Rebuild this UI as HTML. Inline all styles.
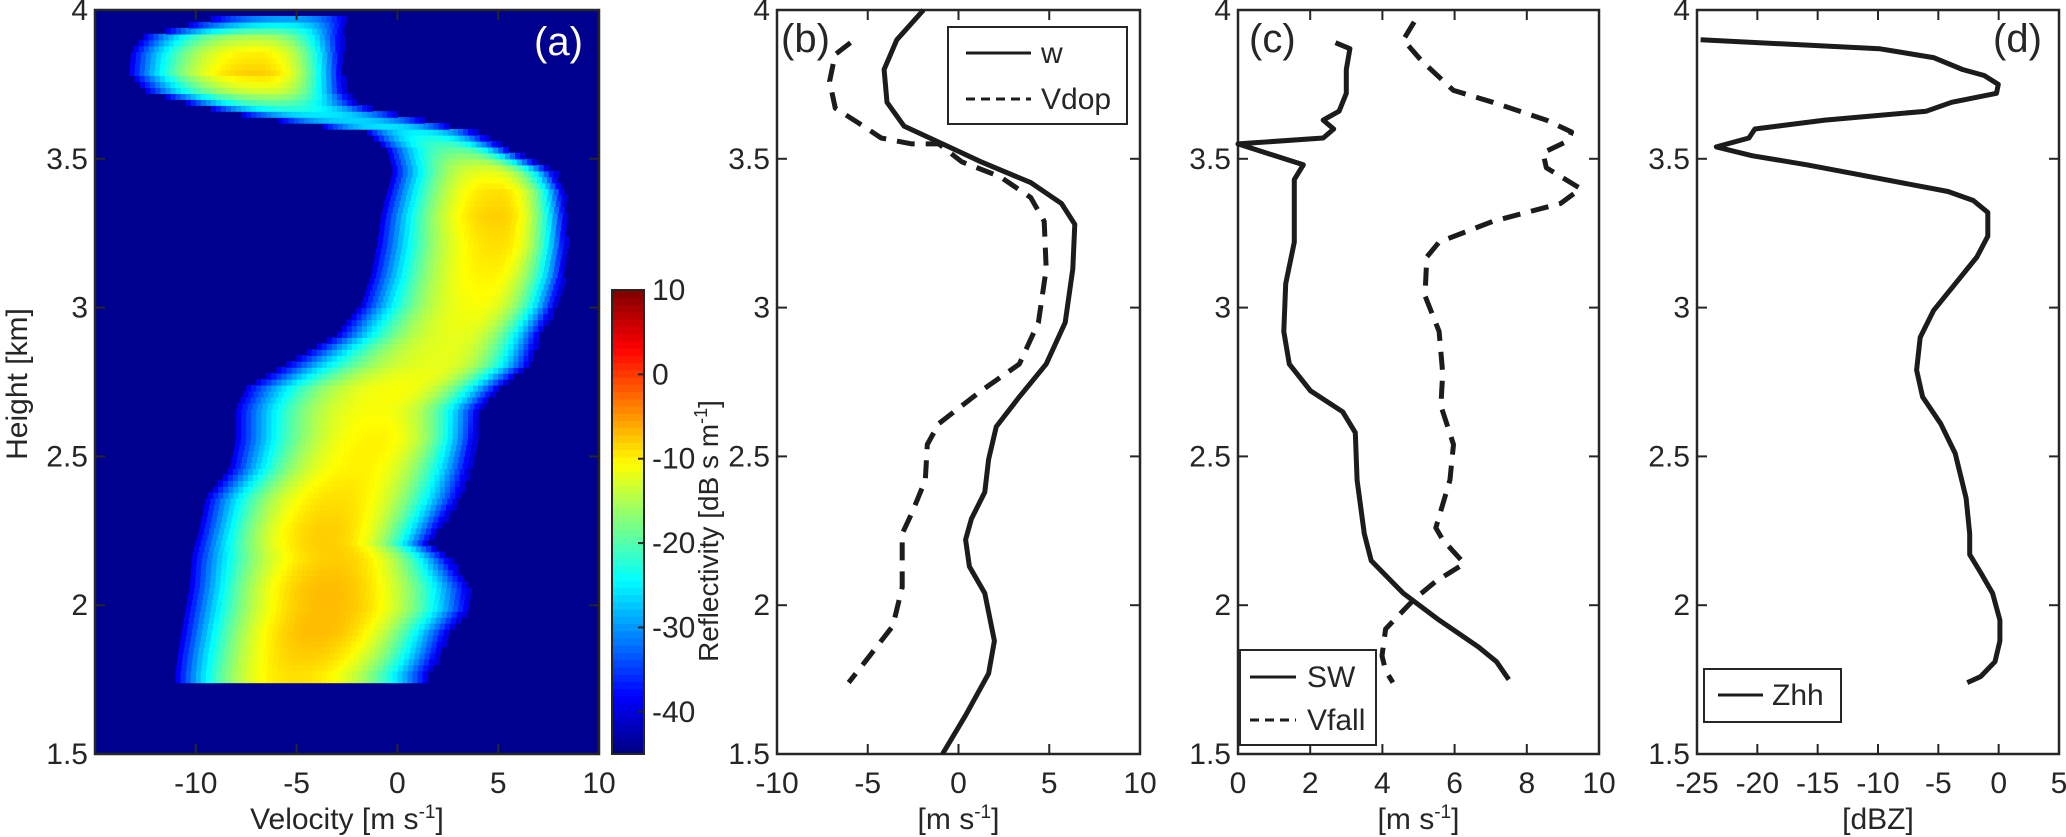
<!DOCTYPE html>
<html><head><meta charset="utf-8"><style>
html,body{margin:0;padding:0;background:#fff;}
svg{display:block;font-family:"Liberation Sans",Arial,sans-serif;}
</style></head><body>
<svg id="fig" width="2066" height="837" viewBox="0 0 2066 837" xmlns="http://www.w3.org/2000/svg">
<defs>
<clipPath id="clipa"><rect x="95" y="10" width="504" height="744"/></clipPath>
</defs>
<g id="pa"></g>
<g id="pb"></g>
<g id="pc"></g>
<g id="pd"></g>
</svg>
<script>
// ---- Panel (a) spectrogram data (per height row) ----
const specHeights = [3.97,3.90,3.85,3.78,3.72,3.67,3.63,3.58,3.52,3.45,3.38,3.30,3.20,3.10,3.00,2.90,2.80,2.72,2.65,2.55,2.45,2.35,2.25,2.20,2.15,2.05,1.98,1.90,1.82,1.76,1.74];
const specLeft    = [-8.7,-12.6,-13.2,-13.3,-12.5,-10,-7,-1.5,-0.5,-0.2,-0.5,-0.8,-1.0,-1.3,-1.8,-3.0,-5.5,-7.5,-8,-8,-8.3,-9.5,-9.8,-10,-10.2,-10.3,-10.5,-10.7,-10.9,-11,-11];
const specRight   = [-2.6,-2.8,-2.8,-2.8,-2.7,-2.0,0.6,3.8,5.5,7.7,8.2,8.3,8.3,8.2,7.8,7.0,6.5,5.0,4.0,3.8,3.5,3.0,2.0,1.5,2.5,3.5,3.5,2.5,2.0,1.5,1.5];
const specPeakV   = [-5,-7,-7,-7,-6.5,-6,-3,1,3,4.5,5,5,5,4.5,4,3,2,0,-1,-1,-2,-3,-3.5,-3.5,-3,-3.5,-3.5,-4,-4.5,-5,-5];
const specPeakDB  = [-32,-15,-10,-8,-13,-21,-27,-25,-19,-12,-9,-8,-9,-10,-11,-12,-12,-11,-11,-10,-10,-9,-8,-8,-8,-7,-7,-7,-8,-9,-9];
const cbTicks = [10,0,-10,-20,-30,-40];
// ---- Panel (b) ----
const wH = [4.0,3.90,3.80,3.69,3.61,3.55,3.49,3.42,3.35,3.28,3.13,2.95,2.81,2.70,2.60,2.49,2.38,2.29,2.22,2.13,2.04,1.88,1.77,1.63,1.5];
const wV = [-1.93,-3.4,-4.1,-3.94,-3.0,-0.88,1.24,3.98,5.67,6.41,6.3,5.88,4.83,3.35,2.08,1.66,1.45,0.71,0.39,0.60,1.45,1.98,1.66,0.39,-0.88];
const vdopH = [3.89,3.85,3.76,3.67,3.62,3.57,3.55,3.55,3.49,3.44,3.37,3.29,3.13,2.95,2.81,2.72,2.61,2.54,2.42,2.31,2.24,2.06,1.93,1.83,1.74];
const vdopV = [-5.95,-6.8,-7.1,-6.79,-5.5,-4.26,-2.57,-1.09,0.18,2.29,3.98,4.72,4.83,4.4,3.35,1.24,-1.09,-1.72,-1.83,-2.57,-3.1,-3.1,-3.62,-4.89,-6.05];
// ---- Panel (c) ----
const swH = [3.89,3.87,3.80,3.72,3.66,3.63,3.60,3.57,3.55,3.48,3.43,3.22,3.08,2.92,2.81,2.72,2.65,2.58,2.42,2.24,2.15,2.04,1.95,1.86,1.81,1.75];
const swV = [2.70,3.10,3.0,3.0,2.80,2.36,2.65,2.36,0,1.81,1.56,1.56,1.32,1.27,1.42,2.01,2.90,3.25,3.30,3.50,3.69,4.58,5.57,6.66,7.16,7.50];
const vfH = [3.96,3.90,3.83,3.73,3.69,3.63,3.59,3.56,3.52,3.47,3.40,3.35,3.29,3.22,3.17,3.04,2.92,2.78,2.67,2.54,2.42,2.26,2.22,2.14,2.08,2.02,1.92,1.83,1.78,1.74];
const vfV = [4.88,4.58,5.08,5.97,7.06,8.54,9.24,9.14,8.45,8.54,9.49,8.94,7.06,5.57,5.23,5.18,5.57,5.67,5.62,5.97,5.87,5.48,5.67,6.27,5.48,4.88,4.09,3.99,4.09,4.29];
// ---- Panel (d) ----
const zH = [3.90,3.87,3.84,3.80,3.78,3.75,3.72,3.69,3.66,3.63,3.60,3.57,3.54,3.51,3.48,3.45,3.39,3.36,3.32,3.24,3.17,3.08,2.99,2.90,2.79,2.70,2.61,2.51,2.36,2.24,2.17,2.11,2.04,1.95,1.88,1.81,1.76,1.74];
const zV = [-24.7,-9.9,-5.4,-3.0,-1.2,-0.03,-0.18,-3.9,-6.0,-14.4,-20.2,-20.7,-23.4,-20.4,-15.9,-12.0,-4.2,-2.1,-0.9,-0.9,-1.8,-3.6,-5.4,-6.5,-6.8,-6.3,-4.8,-3.6,-2.7,-2.4,-2.4,-1.5,-0.5,0.1,0.1,-0.3,-1.5,-2.6];
const yTicks = [1.5,2,2.5,3,3.5,4];

const NS='http://www.w3.org/2000/svg';
const TXT='#262626';
function el(tag,attrs,parent){const e=document.createElementNS(NS,tag);for(const k in attrs)e.setAttribute(k,attrs[k]);parent.appendChild(e);return e;}
const Y0=10,Y1=754;
function yScale(h){return Y1-(h-1.5)/(4-1.5)*(Y1-Y0);}
function jet(t){t=Math.max(0,Math.min(1,t));const c=v=>Math.round(255*Math.max(0,Math.min(1,v)));
 return 'rgb('+c(1.5-Math.abs(4*t-3))+','+c(1.5-Math.abs(4*t-2))+','+c(1.5-Math.abs(4*t-1))+')';}

function axesFrame(g,x0,x1,xmin,xmax,xticks,xlabel,nameBase){
  const xs=v=>x0+(v-xmin)/(xmax-xmin)*(x1-x0);
  for(const t of xticks){
    const X=xs(t);
    const a=el('line',{x1:X,x2:X,y1:Y1,y2:Y1-10,stroke:TXT,'stroke-width':2},g);
    
    const b=el('line',{x1:X,x2:X,y1:Y0,y2:Y0+10,stroke:TXT,'stroke-width':2},g);
    
    const tx=el('text',{x:X,y:793,'text-anchor':'middle','font-size':30,fill:TXT},g);tx.textContent=t;
    
  }
  for(const t of yTicks){
    const Y=yScale(t);
    const a=el('line',{x1:x0,x2:x0+10,y1:Y,y2:Y,stroke:TXT,'stroke-width':2},g);
    
    const b=el('line',{x1:x1,x2:x1-10,y1:Y,y2:Y,stroke:TXT,'stroke-width':2},g);
    
    const tx=el('text',{x:x0-7,y:Y+10,'text-anchor':'end','font-size':30,fill:TXT},g);tx.textContent=t;
    
  }
  const r=el('rect',{x:x0,y:Y0,width:x1-x0,height:Y1-Y0,fill:'none',stroke:TXT,'stroke-width':2.5},g);
  
  const xl=el('text',{x:(x0+x1)/2,y:829,'text-anchor':'middle','font-size':30,fill:TXT},g);
  xl.innerHTML=xlabel;
  
  return xs;
}
function drawLine(g,xs,H,V,dash,name){
  let d='';for(let i=0;i<H.length;i++){d+=(i?'L':'M')+xs(V[i]).toFixed(1)+','+yScale(H[i]).toFixed(1);}
  const p=el('path',{d:d,fill:'none',stroke:'#1c1c1c','stroke-width':5,'stroke-linejoin':'round'},g);
  if(dash)p.setAttribute('stroke-dasharray','18,11');
  
}
function legend(g,x,y,w,h,entries,lx0,lx1,tx,name){
  const r=el('rect',{x:x,y:y,width:w,height:h,fill:'#fff',stroke:TXT,'stroke-width':2},g);
  
  for(const e of entries){
    const l=el('line',{x1:lx0,x2:lx1,y1:e.y,y2:e.y,stroke:'#1c1c1c','stroke-width':3},g);
    if(e.dash)l.setAttribute('stroke-dasharray','9,6');
    
    const t=el('text',{x:tx,y:e.y+10,'font-size':30,fill:TXT},g);t.textContent=e.label;
    
  }
}
function panelLabel(g,x,y,s,fill,name){
  const t=el('text',{x:x,y:y,'font-size':40,fill:fill},g);t.textContent=s;
  
}

// ===== Panel (a) =====
(function(){
  const g=document.getElementById('pa');
  const x0=95,x1=599,xmin=-15,xmax=10;
  const xs=v=>x0+(v-xmin)/(xmax-xmin)*(x1-x0);
  const bg=el('rect',{x:x0,y:Y0,width:x1-x0,height:Y1-Y0,fill:'#00008f'},g);
  
  const cells=el('g',{'clip-path':'url(#clipa)'},g);
  
  const dh=0.02,dv=0.25;
  const hTop=specHeights[0],hBot=specHeights[specHeights.length-1];
  for(let h=hBot;h<=hTop+1e-9;h+=dh){
    let i=0;while(i<specHeights.length-2&&specHeights[i+1]>h)i++;
    const ha=specHeights[i],hb=specHeights[i+1];const f=ha===hb?0:(ha-h)/(ha-hb);
    const lin=a=>a[i]+(a[i+1]-a[i])*f;
    const L=lin(specLeft),R=lin(specRight),P=lin(specPeakV),PV=lin(specPeakDB);
    for(let v=L;v<R;v+=dv){
      const vc=v+dv/2;
      const hw=vc<P?(P-L):(R-P);
      const u=Math.min(1,Math.abs(vc-P)/Math.max(hw,0.3));
      const db=PV-(PV+40)*Math.pow(u,2.3);
      const t=(db+45)/55;
      const c=el('rect',{x:xs(v).toFixed(1),y:(yScale(h+dh)).toFixed(1),width:(dv/(xmax-xmin)*(x1-x0)+0.6).toFixed(1),height:(dh/2.5*(Y1-Y0)+0.6).toFixed(1),fill:jet(t)},cells);
      
      
    }
  }
  axesFrame(g,x0,x1,xmin,xmax,[-10,-5,0,5,10],'Velocity [m s<tspan font-size="19" dy="-11">-1</tspan><tspan dy="11">]</tspan>','panel-a');
  panelLabel(g,534,55,'(a)','#fff','panel-a-label');
  const yl=el('text',{x:0,y:0,'text-anchor':'middle','font-size':30,fill:TXT,transform:'translate(27,384) rotate(-90)'},g);
  yl.textContent='Height [km]';
  
  const cx0=612,cx1=644,cyTop=290,cyBot=754,cmin=-45,cmax=10;
  const cs=v=>cyBot-(v-cmin)/(cmax-cmin)*(cyBot-cyTop);
  const cb=el('g',{},g);
  const N=64;
  for(let k=0;k<N;k++){
    const yA=cyBot-(k+1)/N*(cyBot-cyTop);
    const s=el('rect',{x:cx0,y:yA.toFixed(1),width:cx1-cx0,height:((cyBot-cyTop)/N+0.6).toFixed(1),fill:jet((k+0.5)/N)},cb);
    
  }
  const fr=el('rect',{x:cx0,y:cyTop,width:cx1-cx0,height:cyBot-cyTop,fill:'none',stroke:TXT,'stroke-width':2},cb);
  
  for(const t of cbTicks){
    const Y=cs(t);
    const tk=el('line',{x1:cx1,x2:cx1-6,y1:Y,y2:Y,stroke:TXT,'stroke-width':2},cb);
    
    const tx=el('text',{x:652,y:Y+10,'font-size':30,fill:TXT},cb);tx.textContent=t;
    
  }
  const cl=el('text',{x:0,y:0,'text-anchor':'middle','font-size':28,fill:TXT,transform:'translate(718,531) rotate(-90)'},cb);
  cl.innerHTML='Reflectivity [dB s m<tspan font-size="18" dy="-11">-1</tspan><tspan dy="11">]</tspan>';
  
})();

// ===== Panel (b) =====
(function(){
  const g=document.getElementById('pb');
  const xs=axesFrame(g,777,1140,-10,10,[-10,-5,0,5,10],'[m s<tspan font-size="19" dy="-11">-1</tspan><tspan dy="11">]</tspan>','panel-b');
  drawLine(g,xs,wH,wV,false,'w-line');
  drawLine(g,xs,vdopH,vdopV,true,'vdop-line');
  legend(g,948,27,179,97,[{y:53,label:'w',dash:false},{y:99,label:'Vdop',dash:true}],966,1031,1041,'legend-b');
  panelLabel(g,781,52,'(b)',TXT,'panel-b-label');
})();

// ===== Panel (c) =====
(function(){
  const g=document.getElementById('pc');
  const xs=axesFrame(g,1238,1599,0,10,[0,2,4,6,8,10],'[m s<tspan font-size="19" dy="-11">-1</tspan><tspan dy="11">]</tspan>','panel-c');
  drawLine(g,xs,swH,swV,false,'sw-line');
  drawLine(g,xs,vfH,vfV,true,'vfall-line');
  legend(g,1240,650,136,95,[{y:677,label:'SW',dash:false},{y:720,label:'Vfall',dash:true}],1250,1296,1307,'legend-c');
  panelLabel(g,1249,52,'(c)',TXT,'panel-c-label');
})();

// ===== Panel (d) =====
(function(){
  const g=document.getElementById('pd');
  const xs=axesFrame(g,1697,2059,-25,5,[-25,-20,-15,-10,-5,0,5],'[dBZ]','panel-d');
  drawLine(g,xs,zH,zV,false,'zhh-line');
  legend(g,1704,669,137,53,[{y:695,label:'Zhh',dash:false}],1718,1763,1772,'legend-d');
  panelLabel(g,1993,52,'(d)',TXT,'panel-d-label');
})();
</script>
</body></html>
